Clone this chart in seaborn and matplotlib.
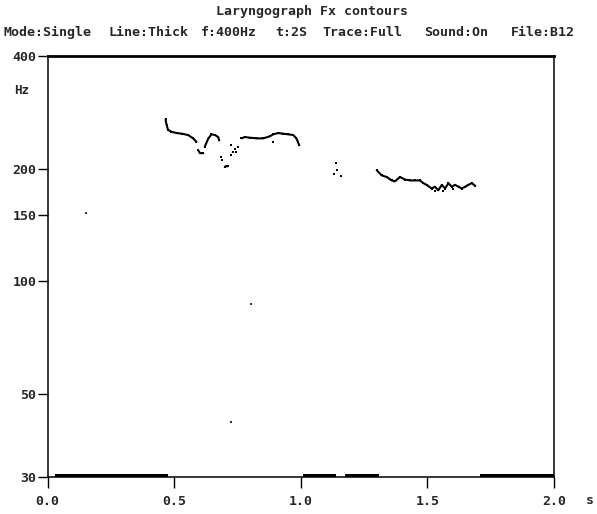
import numpy as np
import pandas as pd
import matplotlib
matplotlib.use("Agg")
import matplotlib.pyplot as plt
import seaborn as sns
from matplotlib.ticker import NullLocator

# Fx contour pieces (time in s, Fx in Hz)
seg_a_t = [0.466, 0.470, 0.476, 0.489, 0.510, 0.530, 0.555, 0.575, 0.588]
seg_a_hz = [271, 262, 254, 251, 249, 248, 246, 241, 236]
seg_b_t = [0.595, 0.602, 0.615]
seg_b_hz = [224, 220, 220]
seg_c_t = [0.621, 0.634, 0.647, 0.661, 0.674, 0.678]
seg_c_hz = [229, 240, 247, 246, 243, 238]
seg_e_t = [0.700, 0.705, 0.713]
seg_e_hz = [202, 203, 203]
seg_g_t = [0.766, 0.779, 0.799, 0.825, 0.852, 0.878, 0.891, 0.911, 0.931, 0.951, 0.970, 0.983, 0.994]
seg_g_hz = [241, 243, 242, 241, 241, 244, 247, 249, 248, 247, 246, 241, 231]
seg_i_t = [1.300, 1.319, 1.339, 1.359, 1.372, 1.392, 1.412, 1.432, 1.451, 1.471, 1.484, 1.497, 1.517,
           1.530, 1.543, 1.557, 1.570, 1.583, 1.596, 1.609, 1.623, 1.636, 1.649, 1.662, 1.675, 1.689]
seg_i_hz = [198, 192, 190, 186, 185, 190, 187, 186, 186, 186, 183, 181, 177,
            179, 175, 181, 177, 183, 179, 181, 179, 177, 179, 181, 183, 180]

# loose points next to the contours (not joined)
near_t = [0.687, 0.690, 0.723, 0.726, 0.733, 0.740, 0.746, 0.753, 0.891,
          1.132, 1.138, 1.145, 1.159, 1.530, 1.560, 1.600]
near_hz = [215, 211, 231, 217, 222, 226, 222, 229, 236,
           194, 207, 198, 191, 174, 174, 176]

# stray single points
stray_t = [0.153, 0.803, 0.726]
stray_hz = [152, 87, 42]

# thick bars along the 30 Hz line
bar_start = [0.03, 1.008, 1.173, 1.707]
bar_end = [0.474, 1.140, 1.308, 2.0]

y_ticks = [30, 50, 100, 150, 200, 400]
y_labels = ["30", "50", "100", "150", "200", "400"]
x_ticks = [0.0, 0.5, 1.0, 1.5, 2.0]
x_labels = ["0.0", "0.5", "1.0", "1.5", "2.0"]

header = [("Mode:Single", 4), ("Line:Thick", 109), ("f:400Hz", 201), ("t:2S", 275),
          ("Trace:Full", 322), ("Sound:On", 424), ("File:B12", 511)]

segs = [("a", seg_a_t, seg_a_hz), ("b", seg_b_t, seg_b_hz), ("c", seg_c_t, seg_c_hz),
        ("e", seg_e_t, seg_e_hz), ("g", seg_g_t, seg_g_hz), ("i", seg_i_t, seg_i_hz)]
lines = pd.concat([pd.DataFrame({"t": t, "hz": h, "seg": s}) for s, t, h in segs], ignore_index=True)
dots = pd.concat([lines[["t", "hz"]], pd.DataFrame({"t": near_t, "hz": near_hz})], ignore_index=True)
stray = pd.DataFrame({"t": stray_t, "hz": stray_hz})

sns.set_style("white")
plt.rcParams["font.family"] = ["DejaVu Sans Mono"]
plt.rcParams["font.weight"] = "bold"

W, H = 597, 514
fig = plt.figure(figsize=(W / 100, H / 100), dpi=100)
ax = fig.add_axes([47.5 / W, 1 - 477 / H, (554 - 47.5) / W, (477 - 56) / H])

sns.lineplot(data=lines, x="t", y="hz", units="seg", estimator=None, sort=False,
             color="black", lw=1.5, ax=ax, legend=False)
sns.scatterplot(data=dots, x="t", y="hz", marker="s", s=2.5, color="black", linewidth=0, ax=ax)
sns.scatterplot(data=stray, x="t", y="hz", marker="s", s=1.2, color="#333333", linewidth=0, ax=ax)

ax.broken_barh([(s, e - s) for s, e in zip(bar_start, bar_end)], (30, 0.65),
               facecolor="black", edgecolor="none", clip_on=False)

ax.set_yscale("log")
ax.set_xlim(0, 2.0)
ax.set_ylim(30, 400)
ax.set_yticks(y_ticks)
ax.set_yticklabels(y_labels)
ax.yaxis.set_minor_locator(NullLocator())
ax.set_xticks(x_ticks)
ax.set_xticklabels(x_labels)
ax.set_xlabel("")
ax.set_ylabel("")
ax.tick_params(axis="y", direction="out", length=7, width=1, color="black",
               labelsize=9.5, pad=1, left=True)
ax.tick_params(axis="x", direction="out", length=8, width=1, color="black",
               labelsize=9.5, pad=5, bottom=True)

for side in ["left", "right", "bottom"]:
    ax.spines[side].set_linewidth(1.1)
    ax.spines[side].set_color("black")
ax.spines["top"].set_linewidth(2)
ax.spines["top"].set_color("black")

fig.text(312 / W, 1 - 12 / H, "Laryngograph Fx contours", ha="center", va="center", fontsize=9.5)
for word, xpos in header:
    fig.text(xpos / W, 1 - 32 / H, word, ha="left", va="center", fontsize=9.5)
fig.text(14 / W, 1 - 90 / H, "Hz", ha="left", va="center", fontsize=9)
fig.text(590 / W, 1 - 501 / H, "s", ha="center", va="center", fontsize=9.5)

fig.savefig("out.png", dpi=100, facecolor="white")
